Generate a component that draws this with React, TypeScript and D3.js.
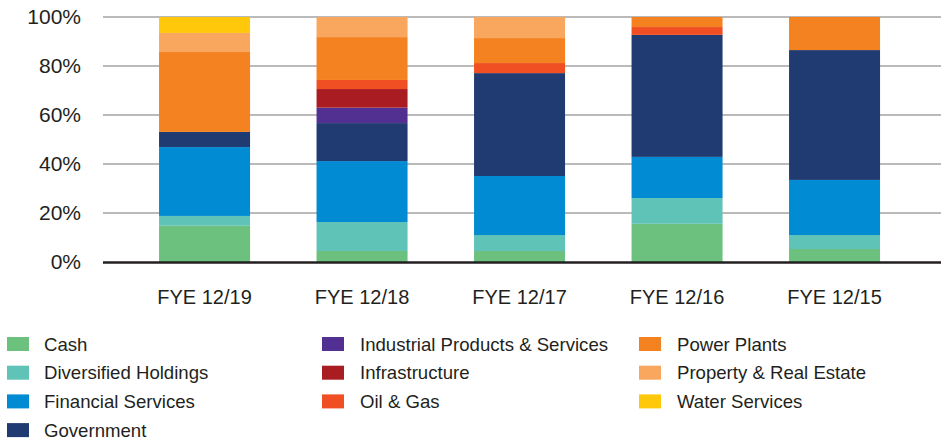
import React from "react";
import * as d3 from "d3";

const categories = ["FYE 12/19", "FYE 12/18", "FYE 12/17", "FYE 12/16", "FYE 12/15"];

const cash = [14.8, 4.5, 4.5, 15.6, 5.3];
const diversifiedHoldings = [4.0, 11.8, 6.5, 10.5, 5.7];
const financialServices = [28.1, 24.9, 24.1, 16.8, 22.5];
const government = [6.2, 15.5, 42.0, 49.8, 53.0];
const industrialProducts = [0, 6.3, 0, 0, 0];
const infrastructure = [0, 7.6, 0, 0, 0];
const oilGas = [0, 3.7, 4.1, 3.2, 0];
const powerPlants = [32.6, 17.5, 10.2, 4.1, 13.5];
const propertyRealEstate = [7.8, 8.2, 8.6, 0, 0];
const waterServices = [6.5, 0, 0, 0, 0];

const seriesNames = [
  "Cash",
  "Diversified Holdings",
  "Financial Services",
  "Government",
  "Industrial Products & Services",
  "Infrastructure",
  "Oil & Gas",
  "Power Plants",
  "Property & Real Estate",
  "Water Services",
];
const seriesValues = [
  cash,
  diversifiedHoldings,
  financialServices,
  government,
  industrialProducts,
  infrastructure,
  oilGas,
  powerPlants,
  propertyRealEstate,
  waterServices,
];
const seriesColors = [
  "#6cc17f",
  "#5fc3b7",
  "#008bd2",
  "#203b72",
  "#523092",
  "#a91d22",
  "#f04e23",
  "#f58220",
  "#f9a65e",
  "#ffc80a",
];
const yTicks = [0, 20, 40, 60, 80, 100];

const W = 941;
const H = 441;
const FONT = "'Liberation Sans', Arial, Helvetica, sans-serif";
const TEXT = "#231f20";

export default function App() {
  const rows = categories.map((c, i) => {
    const r: any = { category: c };
    seriesNames.forEach((s, j) => (r[s] = seriesValues[j][i]));
    return r;
  });
  const stacked = d3.stack<any>().keys(seriesNames)(rows);

  const x = d3
    .scaleBand<string>()
    .domain(categories)
    .range([125.8, 913.3])
    .paddingInner(0.4222)
    .paddingOuter(0.2111);
  const y = d3.scaleLinear().domain([0, 100]).range([262, 17]);

  const legendCols = [
    { sx: 7, tx: 44, items: [0, 1, 2, 3] },
    { sx: 322, tx: 360, items: [4, 5, 6] },
    { sx: 639, tx: 677, items: [7, 8, 9] },
  ];
  const legendY0 = 344;
  const legendStep = 28.7;

  return (
    <svg
      width={W}
      height={H}
      style={{ position: "absolute", left: 0, top: 0, display: "block", background: "#fff" }}
      fontFamily={FONT}
    >
      {/* grid */}
      {yTicks.map((t) =>
        t === 0 ? null : (
          <line key={t} x1={103} x2={W} y1={y(t)} y2={y(t)} stroke="#a3a3a3" strokeWidth={1.5} />
        )
      )}
      {yTicks.map((t) => (
        <text
          key={"l" + t}
          x={81}
          y={y(t)}
          dy="0.35em"
          textAnchor="end"
          fontSize={21}
          fill={TEXT}
        >
          {t + "%"}
        </text>
      ))}
      {/* bars */}
      {stacked.map((layer, j) => (
        <g key={layer.key} fill={seriesColors[j]}>
          {layer.map((d, i) =>
            d[1] - d[0] > 0 ? (
              <rect
                key={i}
                x={x(categories[i])}
                width={x.bandwidth()}
                y={y(d[1])}
                height={y(d[0]) - y(d[1])}
              />
            ) : null
          )}
        </g>
      ))}
      {/* baseline */}
      <line x1={103} x2={W} y1={y(0) + 0.5} y2={y(0) + 0.5} stroke={TEXT} strokeWidth={2.5} />
      {/* x labels */}
      {categories.map((c) => (
        <text
          key={c}
          x={(x(c) as number) + x.bandwidth() / 2}
          y={304}
          textAnchor="middle"
          fontSize={20}
          fill={TEXT}
        >
          {c}
        </text>
      ))}
      {/* legend */}
      {legendCols.map((col, ci) =>
        col.items.map((idx, r) => {
          const cy = legendY0 + r * legendStep;
          return (
            <g key={ci + "-" + idx}>
              <rect x={col.sx} y={cy - 7} width={22} height={14} fill={seriesColors[idx]} />
              <text x={col.tx} y={cy} dy="0.35em" fontSize={18.6} fill={TEXT}>
                {seriesNames[idx]}
              </text>
            </g>
          );
        })
      )}
    </svg>
  );
}
